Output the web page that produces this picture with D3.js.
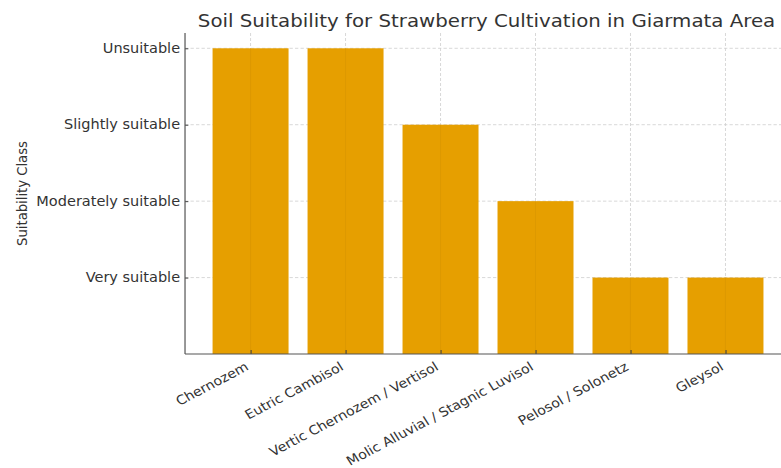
<!DOCTYPE html>
<html>
<head>
<meta charset="utf-8">
<script src="https://cdn.jsdelivr.net/npm/d3@7"></script>
<style>
  html, body { margin: 0; padding: 0; background: #fff; }
  svg { display: block; }
  text { font-family: "DejaVu Sans", sans-serif; fill: #333; }
</style>
</head>
<body>
<!-- Drawing space is 710 units wide, shown stretched across 781 px -->
<svg id="chart" width="781" height="468" viewBox="0 0 710 468" preserveAspectRatio="none"></svg>
<script>
// Soil types and their suitability class (1 = very suitable ... 4 = unsuitable)
const soils = [
  "Chernozem",
  "Eutric Cambisol",
  "Vertic Chernozem / Vertisol",
  "Molic Alluvial / Stagnic Luvisol",
  "Pelosol / Solonetz",
  "Gleysol"
];
const suitability = [4, 4, 3, 2, 1, 1];
const classValues = [1, 2, 3, 4];
const classLabels = ["Very suitable", "Moderately suitable", "Slightly suitable", "Unsuitable"];

const svg = d3.select("#chart");
const plotLeft = 168.2, plotRight = 719.1, plotTop = 33, plotBottom = 354;

// Linear x scale over category index, padded like a bar chart's default margins
const x = d3.scaleLinear().domain([-0.69, soils.length - 1 + 0.69]).range([plotLeft, plotRight]);
const y = d3.scaleLinear().domain([0, 4.2]).range([plotBottom, plotTop]);
const barW = x(0.8) - x(0);

// Grid lines
const grid = svg.append("g");
soils.forEach((s, i) => {
  grid.append("line")
    .attr("x1", x(i)).attr("x2", x(i)).attr("y1", plotTop).attr("y2", plotBottom)
    .attr("stroke", "#d0d0d0").attr("stroke-width", 0.8).attr("stroke-dasharray", "3,2");
});
classValues.forEach(v => {
  grid.append("line")
    .attr("x1", plotLeft).attr("x2", plotRight).attr("y1", y(v)).attr("y2", y(v))
    .attr("stroke", "#d0d0d0").attr("stroke-width", 0.8).attr("stroke-dasharray", "3,2");
});

// Bars
svg.append("g").selectAll("rect")
  .data(soils)
  .join("rect")
  .attr("x", (d, i) => x(i) - barW / 2)
  .attr("width", barW)
  .attr("y", (d, i) => y(suitability[i]))
  .attr("height", (d, i) => y(0) - y(suitability[i]))
  .attr("fill", "#E69F00");

// Vertical grid lines show through bars faintly
soils.forEach((s, i) => {
  svg.append("line")
    .attr("x1", x(i)).attr("x2", x(i)).attr("y1", y(suitability[i])).attr("y2", plotBottom)
    .attr("stroke", "#c98c00").attr("stroke-width", 0.6).attr("stroke-opacity", 0.5);
});

// Y axis
const yAxis = svg.append("g")
  .attr("transform", `translate(${plotLeft},0)`)
  .call(d3.axisLeft(y).tickValues(classValues)
    .tickFormat((d, i) => classLabels[i]).tickSizeInner(-3).tickSizeOuter(0));
yAxis.select(".domain").remove();
yAxis.selectAll(".tick line").attr("stroke", "#444");
yAxis.selectAll(".tick text").attr("font-size", 13.2).attr("fill", "#333")
  .attr("x", -4.5).attr("font-family", "DejaVu Sans, sans-serif");

// X axis
const xAxis = svg.append("g")
  .attr("transform", `translate(0,${plotBottom})`)
  .call(d3.axisBottom(x).tickValues(d3.range(soils.length))
    .tickFormat(i => soils[i]).tickSizeInner(-4).tickSizeOuter(0));
xAxis.select(".domain").remove();
xAxis.selectAll(".tick line").attr("stroke", "#444");
xAxis.selectAll(".tick text")
  .attr("font-size", 12.9).attr("fill", "#333").attr("font-family", "DejaVu Sans, sans-serif")
  .attr("text-anchor", "end")
  .attr("dy", null).attr("y", 0)
  .attr("transform", "translate(-1.5,15.3) rotate(-30)");

// Spines
svg.append("line").attr("x1", plotLeft).attr("x2", plotLeft).attr("y1", plotTop).attr("y2", plotBottom)
  .attr("stroke", "#555").attr("stroke-width", 1.1);
svg.append("line").attr("x1", plotLeft).attr("x2", plotRight).attr("y1", plotBottom).attr("y2", plotBottom)
  .attr("stroke", "#555").attr("stroke-width", 1.2);

// Title
svg.append("text")
  .attr("x", 442.3).attr("y", 27)
  .attr("text-anchor", "middle").attr("font-size", 18)
  .text("Soil Suitability for Strawberry Cultivation in Giarmata Area");

// Y axis label
svg.append("text")
  .attr("transform", `translate(24.5,${(plotTop + plotBottom) / 2}) rotate(-90)`)
  .attr("text-anchor", "middle").attr("font-size", 13.2)
  .text("Suitability Class");
</script>
</body>
</html>
